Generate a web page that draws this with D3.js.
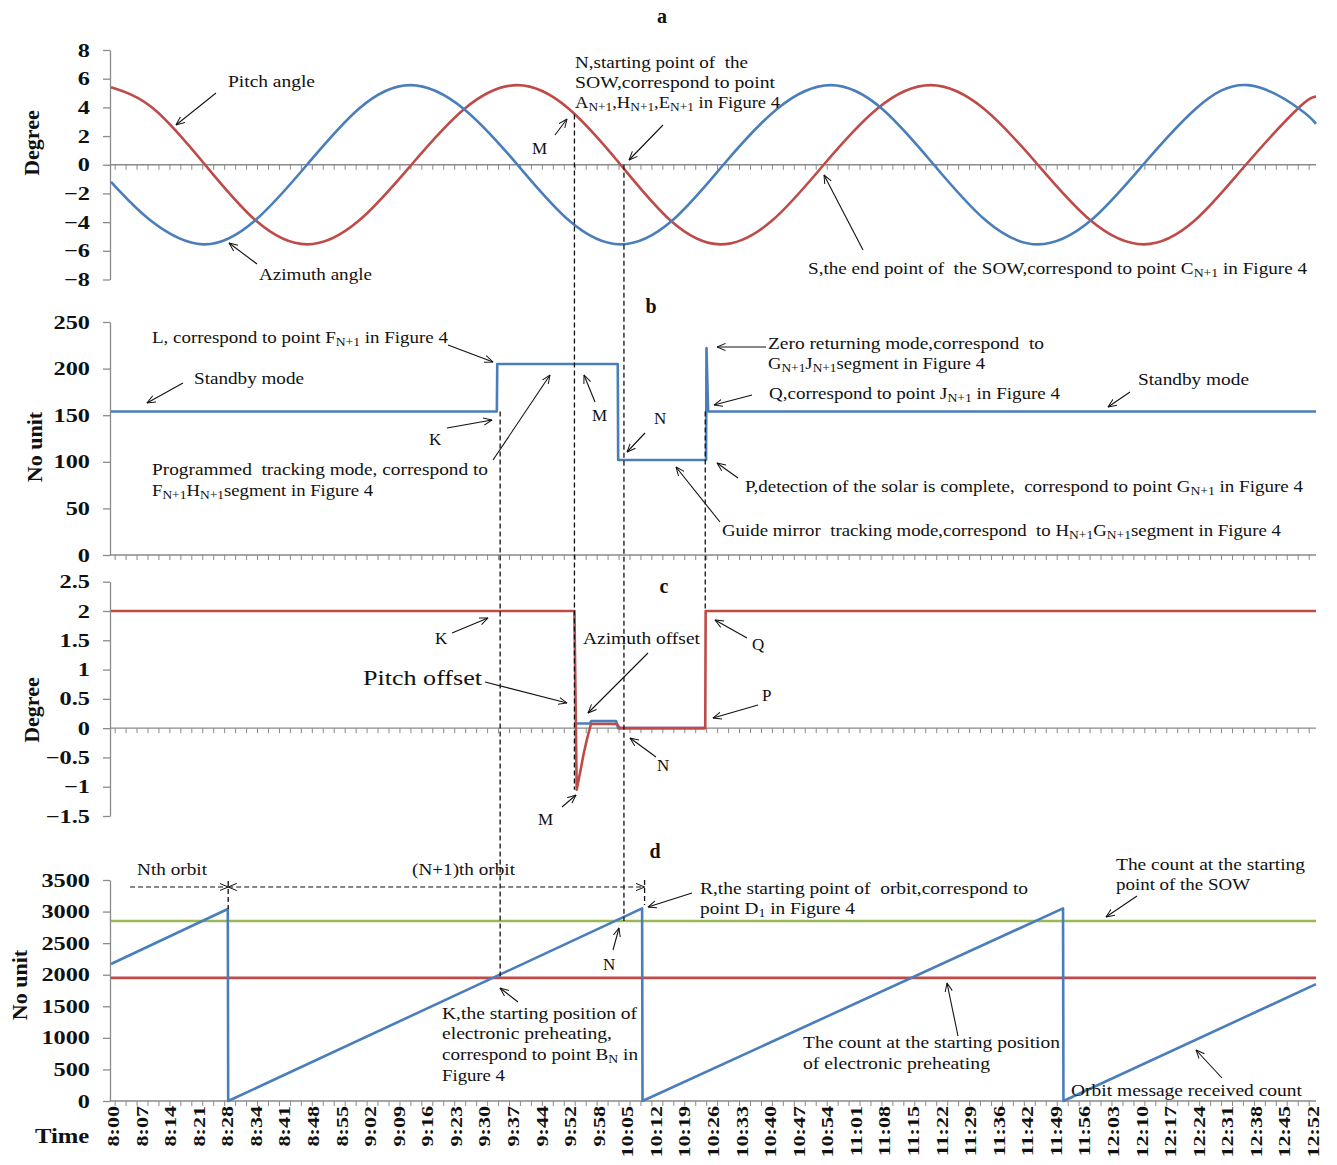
<!DOCTYPE html>
<html><head><meta charset="utf-8">
<script src="https://cdn.jsdelivr.net/npm/d3@7"></script>
<style>
body{margin:0;background:#fff}
svg{display:block}
text{font-family:"Liberation Serif","Times New Roman",serif;fill:#111}
</style>
</head><body>
<svg id="c" width="1337" height="1165"></svg>
<script>
// ---------------- DATA ----------------
const timeLabels = ["8:00","8:07","8:14","8:21","8:28","8:34","8:41","8:48","8:55","9:02","9:09","9:16","9:23","9:30","9:37","9:44","9:52","9:58","10:05","10:12","10:19","10:26","10:33","10:40","10:47","10:54","11:01","11:08","11:15","11:22","11:29","11:36","11:42","11:49","11:56","12:03","12:10","12:17","12:24","12:31","12:38","12:45","12:52"];

// panel a (minutes after 8:00, degree)
const pitchT = [0,10.4,22.8,35.1,47.5,60.1,72.8,85.6,98.5,111.0,123.5,135.6,147.7,160.2,172.7,185.6,198.6,211.6,224.6,237.4,250.3,262.6,275.0,287.5,292];
const pitchV = [5.4,3.89,0,-3.89,-5.55,-3.89,0,3.89,5.55,3.89,0,-3.89,-5.55,-3.89,0,3.89,5.55,3.89,0,-3.89,-5.55,-3.89,0,3.89,4.75];
const azimuthT = [0,9.6,22.3,34.9,47.5,60.0,72.5,85.5,98.5,111.0,123.5,136.0,148.4,161.4,174.4,186.9,199.4,212.0,224.6,237.4,250.1,262.8,275.5,288.0,292];
const azimuthV = [-1.2,-3.89,-5.55,-3.89,0,3.89,5.55,3.89,0,-3.89,-5.55,-3.89,0,3.89,5.55,3.89,0,-3.89,-5.55,-3.89,0,3.89,5.55,3.89,2.85];

// panel b (mode code)
const modeT = [0,93.5,93.6,122.8,122.9,144.2,144.3,144.7,292];
const modeV = [154,154,205,205,102,102,222,154,154];

// panel c (offsets, degree)
const pitchOffT = [0,112.3,112.85,113.7,114.5,115.3,116.3,122.6,123.3,144.0,144.1,292];
const pitchOffV = [2,2,-1.05,-0.75,-0.45,-0.2,0.07,0.07,0,0,2,2];
const azOffT = [112.4,112.6,116.0,116.4,122.4,122.9,144.0];
const azOffV = [0.08,0.08,0.08,0.12,0.12,0,0];

// panel d (counts)
const countT = [0,28.3,28.4,128.7,128.8,230.7,230.8,292];
const countV = [2170,3040,0,3050,0,3050,0,1850];
const sowCount = 2850;
const preheatCount = 1950;

// ---------------- LAYOUT ----------------
const BLUE="#4A7EBB", RED="#BE4B48", GREEN="#98B954", AXIS="#8a8a8a";
const svg = d3.select("#c");
const X0=111, X1=1316;
const x = d3.scaleLinear().domain([0,292]).range([X0,X1]);
const xl = d3.scalePoint().domain(timeLabels).range([113,1313]);

const ya = d3.scaleLinear().domain([-8,8]).range([279.5,50]);
const yb = d3.scaleLinear().domain([0,250]).range([555,322]);
const yc = d3.scaleLinear().domain([-1.5,2.5]).range([816,581.7]);
const yd = d3.scaleLinear().domain([0,3500]).range([1101,880]);

const fmt = d => (d<0?"\u2212":"")+Math.abs(d);
const defs = svg.append("defs");
defs.append("marker").attr("id","ah").attr("viewBox","0 -5 10 10").attr("refX",9.5).attr("refY",0)
  .attr("markerWidth",9).attr("markerHeight",9).attr("markerUnits","userSpaceOnUse").attr("orient","auto-start-reverse")
  .append("path").attr("d","M0,-4L9.5,0L0,4").attr("fill","none").attr("stroke","#111").attr("stroke-width",1.1);

function stretch(sel, f){ sel.each(function(){ const w=this.getComputedTextLength(); d3.select(this).attr("textLength",w*f).attr("lengthAdjust","spacingAndGlyphs");}); }

function yAxis(y, ticks){
  const g = svg.append("g").attr("transform","translate(110,0)")
    .call(d3.axisLeft(y).tickValues(ticks).tickSize(7).tickSizeOuter(0).tickPadding(13).tickFormat(fmt));
  g.attr("font-family",null).attr("font-size",null);
  g.select(".domain").attr("stroke",AXIS).attr("stroke-width",1.3);
  g.selectAll(".tick line").attr("stroke",AXIS).attr("stroke-width",1.3);
  g.selectAll(".tick text").attr("font-size",19).attr("font-weight","bold").attr("fill","#111");
  stretch(g.selectAll(".tick text"),1.28);
}
function xLine(yv){
  const g = svg.append("g");
  g.append("line").attr("x1",X0-1).attr("x2",X1).attr("y1",yv).attr("y2",yv).attr("stroke",AXIS).attr("stroke-width",1.3);
  g.selectAll("line.mt").data(d3.range(1,292,292/110)).join("line").attr("class","mt")
    .attr("x1",d=>x(d)).attr("x2",d=>x(d)).attr("y1",yv).attr("y2",yv+5).attr("stroke",AXIS).attr("stroke-width",1);
}
yAxis(ya,d3.range(-8,9,2)); xLine(ya(0));
yAxis(yb,d3.range(0,251,50)); xLine(yb(0));
yAxis(yc,d3.range(-1.5,2.51,0.5)); xLine(yc(0));
yAxis(yd,d3.range(0,3501,500)); xLine(yd(0));

// x tick labels
svg.append("g").selectAll("text").data(timeLabels).join("text")
  .attr("transform",d=>`translate(${xl(d)},1106) rotate(-90)`).attr("text-anchor","end").attr("dy","0.35em")
  .attr("font-size",17).attr("font-weight","bold").text(d=>d)
  .call(s=>stretch(s,1.3));

// axis titles
function rotTitle(txt,bx,cy){ svg.append("text").attr("transform",`translate(${bx},${cy}) rotate(-90)`).attr("text-anchor","middle")
  .attr("font-size",22).attr("font-weight","bold").text(txt); }
rotTitle("Degree",39,143); rotTitle("No unit",42,447); rotTitle("Degree",39,710); rotTitle("No unit",27,985);
svg.append("text").attr("x",35).attr("y",1143).attr("font-size",22).attr("font-weight","bold").text("Time").call(s=>stretch(s,1.12));
[["a",662,23],["b",651,313],["c",664,593],["d",655,858]].forEach(([t,cx,by])=>
  svg.append("text").attr("x",cx).attr("y",by).attr("text-anchor","middle").attr("font-size",20).attr("font-weight","bold").text(t));

// data lines
function series(T,V,y,color,curve){
  const pts = T.map((t,i)=>[t,V[i]]);
  svg.append("path").datum(pts).attr("fill","none").attr("stroke",color).attr("stroke-width",2.6).attr("stroke-linejoin","round")
    .attr("d",d3.line().x(d=>x(d[0])).y(d=>y(d[1])).curve(curve||d3.curveLinear));
}
series(pitchT,pitchV,ya,RED,d3.curveNatural);
series(azimuthT,azimuthV,ya,BLUE,d3.curveNatural);
series(modeT,modeV,yb,BLUE);
series(azOffT,azOffV,yc,BLUE);
series(pitchOffT,pitchOffV,yc,RED);
series([0,292],[sowCount,sowCount],yd,GREEN);
series([0,292],[preheatCount,preheatCount],yd,RED);
series(countT,countV,yd,BLUE);

// dashed guide lines
const dash = [[94.3,yb(154),yd(1950)],[112.3,ya(3.5),yc(-1.05)],[124.3,ya(0),yd(2850)],[144.0,yb(154),yc(2)],
              [28.4,881,909],[129.3,880,905]];
dash.forEach(([t,a,b])=>svg.append("line").attr("x1",x(t)).attr("x2",x(t)).attr("y1",a).attr("y2",b)
  .attr("stroke","#111").attr("stroke-width",1.3).attr("stroke-dasharray","5,3"));
svg.append("line").attr("x1",130).attr("x2",x(28.4)).attr("y1",887).attr("y2",887).attr("stroke","#111").attr("stroke-width",1.2)
  .attr("stroke-dasharray","5,3").attr("marker-end","url(#ah)");
svg.append("line").attr("x1",x(28.4)).attr("x2",x(129.3)).attr("y1",887).attr("y2",887).attr("stroke","#111").attr("stroke-width",1.2)
  .attr("stroke-dasharray","5,3").attr("marker-end","url(#ah)").attr("marker-start","url(#ah)");

// annotation arrows
const arrows = [
 [216,93,176,125],[257,264,229,243],[555,135,567,119],[663,125,629,160],[863,250,824,175],
 [448,345,493,362],[183,383,147,403],[447,428,492,420],[493,460,550,375],[595,402,584,375],[645,433,627,452],
 [766,347,717,347],[752,395,714,405],[1130,392,1108,407],[738,478,717,463],[720,522,676,467],
 [452,633,488,618],[485,682,567,703],[648,653,588,713],[747,638,715,620],[758,705,713,718],[656,757,630,738],[562,807,576,795],
 [692,893,648,907],[613,950,619,928],[518,1002,500,988],[1137,896,1106,917],[958,1036,947,983],[1222,1078,1196,1050]
];
svg.append("g").selectAll("line").data(arrows).join("line")
  .attr("x1",d=>d[0]).attr("y1",d=>d[1]).attr("x2",d=>d[2]).attr("y2",d=>d[3])
  .attr("stroke","#111").attr("stroke-width",1.1).attr("marker-end","url(#ah)");

// annotation texts: [x, baseline, text, width, size]
const notes = [
 [228,87,"Pitch angle",87,17],[259,280,"Azimuth angle",113,17],[532,154,"M",0,17],
 [575,68,"N,starting point of  the",173,17],[575,88,"SOW,correspond to point",200,17],[575,108,"A_{N+1},H_{N+1},E_{N+1} in Figure 4",205,17],
 [808,274,"S,the end point of  the SOW,correspond to point C_{N+1} in Figure 4",499,17],
 [152,343,"L, correspond to point F_{N+1} in Figure 4",296,17],[194,384,"Standby mode",110,17],[429,445,"K",0,17],
 [152,475,"Programmed  tracking mode, correspond to",336,17],[152,496,"F_{N+1}H_{N+1}segment in Figure 4",221,17],
 [592,421,"M",0,17],[654,424,"N",0,17],
 [768,349,"Zero returning mode,correspond  to",276,17],[768,369,"G_{N+1}J_{N+1}segment in Figure 4",217,17],
 [769,399,"Q,correspond to point J_{N+1} in Figure 4",291,17],[1138,385,"Standby mode",111,17],
 [745,492,"P,detection of the solar is complete,  correspond to point G_{N+1} in Figure 4",558,17],
 [722,536,"Guide mirror  tracking mode,correspond  to H_{N+1}G_{N+1}segment in Figure 4",559,17],
 [435,644,"K",0,17],[363,685,"Pitch offset",119,22],[583,644,"Azimuth offset",117,17],
 [752,650,"Q",0,17],[762,701,"P",0,17],[657,771,"N",0,17],[538,825,"M",0,17],
 [137,875,"Nth orbit",70,17],[412,875,"(N+1)th orbit",103,17],
 [700,894,"R,the starting point of  orbit,correspond to",328,17],[700,914,"point D_{1} in Figure 4",155,17],
 [603,970,"N",0,17],
 [442,1019,"K,the starting position of",195,17],[442,1039,"electronic preheating,",170,17],[442,1060,"correspond to point B_{N} in",196,17],[442,1081,"Figure 4",63,17],
 [1116,870,"The count at the starting",189,17],[1116,890,"point of the SOW",134,17],
 [803,1048,"The count at the starting position",257,17],[803,1069,"of electronic preheating",187,17],
 [1071,1096,"Orbit message received count",231,17]
];
notes.forEach(([nx,ny,s,w,fs])=>{
  const t = svg.append("text").attr("x",nx).attr("y",ny).attr("font-size",fs).attr("xml:space","preserve");
  const parts = s.split(/(_\{[^}]*\})/);
  let sub=false;
  parts.forEach(p=>{
    if(!p) return;
    if(p.startsWith("_{")){ t.append("tspan").attr("font-size",fs*0.72).attr("dy",fs*0.2).text(p.slice(2,-1)); sub=true; }
    else { t.append("tspan").attr("dy",sub?-fs*0.2:0).text(p); sub=false; }
  });
  if(w>0) t.attr("textLength",w).attr("lengthAdjust","spacingAndGlyphs");
});
</script>
</body></html>
